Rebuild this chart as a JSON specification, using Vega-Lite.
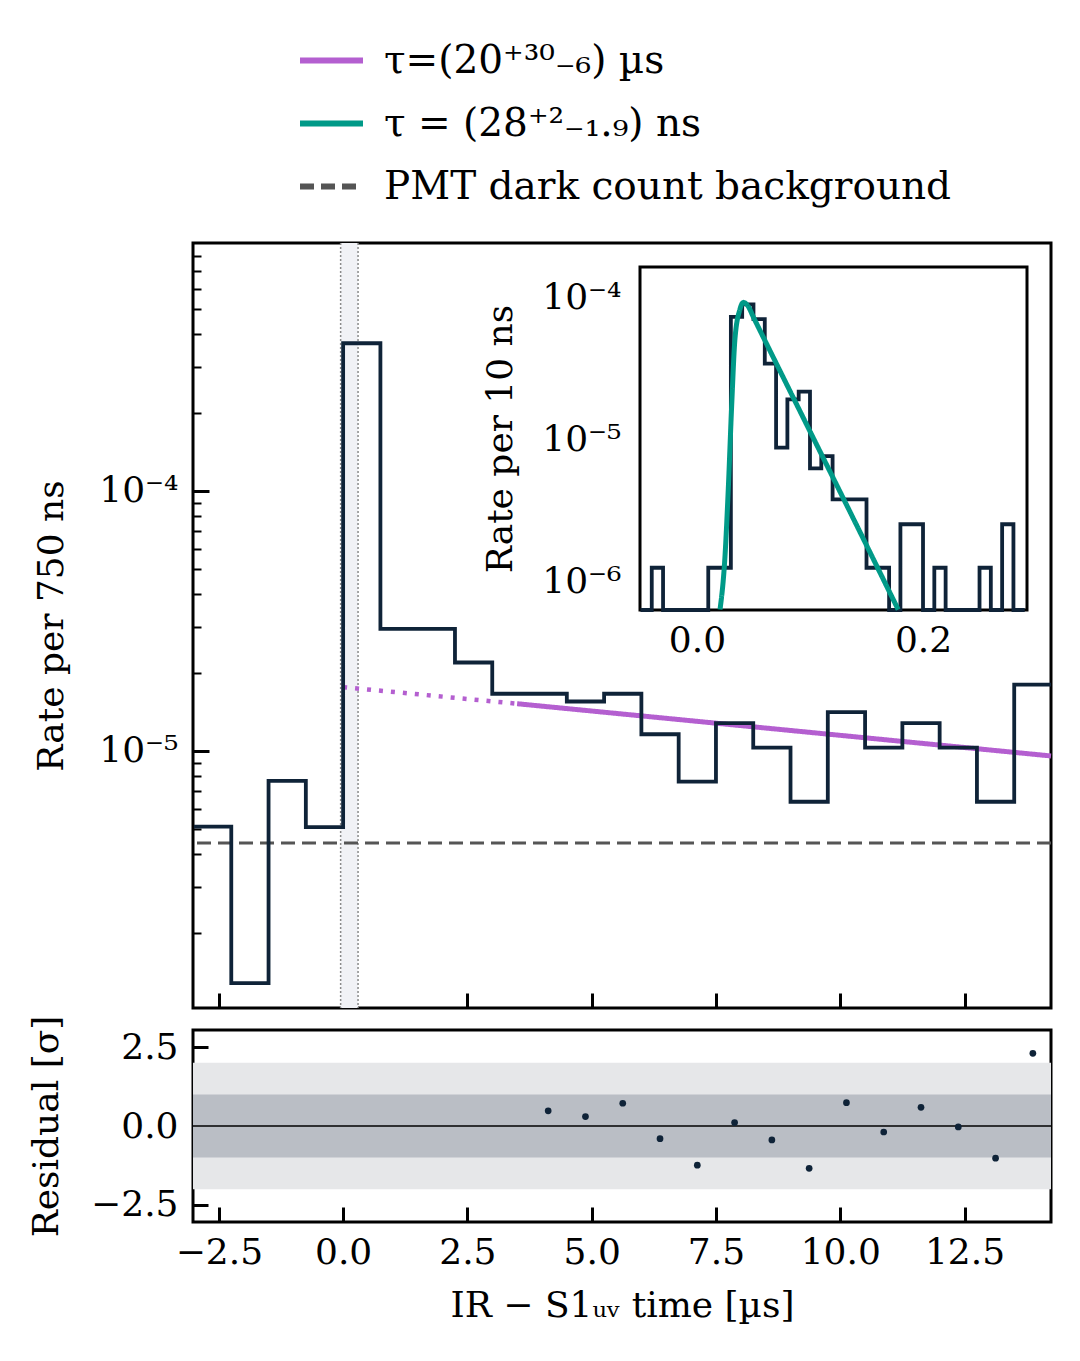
{
  "$schema": "https://vega.github.io/schema/vega-lite/v6.json",
  "padding": {"left": 27, "top": 24, "right": 20, "bottom": 20},
  "background": "white",
  "config": {
    "font": "DejaVu Serif",
    "view": {"stroke": "black", "strokeWidth": 3},
    "axis": {
      "labelFont": "DejaVu Serif", "titleFont": "DejaVu Serif",
      "labelFontSize": 36, "titleFontSize": 36, "titleFontWeight": "normal",
      "labelColor": "black", "titleColor": "black", "tickColor": "black",
      "grid": false, "domain": false, "zindex": 1, "tickWidth": 3
    }
  },
  "datasets": {
    "hist750": [
      {"t": -3.0, "rate": 5.12e-6},
      {"t": -2.25, "rate": 1.28e-6},
      {"t": -1.5, "rate": 7.67e-6},
      {"t": -0.75, "rate": 5.1e-6},
      {"t": 0.0, "rate": 3.70e-4},
      {"t": 0.75, "rate": 2.95e-5},
      {"t": 1.5, "rate": 2.95e-5},
      {"t": 2.25, "rate": 2.19e-5},
      {"t": 3.0, "rate": 1.66e-5},
      {"t": 3.75, "rate": 1.66e-5},
      {"t": 4.5, "rate": 1.55e-5},
      {"t": 5.25, "rate": 1.66e-5},
      {"t": 6.0, "rate": 1.16e-5},
      {"t": 6.75, "rate": 7.62e-6},
      {"t": 7.5, "rate": 1.28e-5},
      {"t": 8.25, "rate": 1.03e-5},
      {"t": 9.0, "rate": 6.38e-6},
      {"t": 9.75, "rate": 1.41e-5},
      {"t": 10.5, "rate": 1.03e-5},
      {"t": 11.25, "rate": 1.28e-5},
      {"t": 12.0, "rate": 1.03e-5},
      {"t": 12.75, "rate": 6.38e-6},
      {"t": 13.5, "rate": 1.80e-5},
      {"t": 14.25, "rate": 1.80e-5}
    ],
    "hist10": [
      {"t": -0.05, "rate": 0},
      {"t": -0.04, "rate": 1.26e-6},
      {"t": -0.03, "rate": 0},
      {"t": -0.02, "rate": 0},
      {"t": -0.01, "rate": 0},
      {"t": 0.0, "rate": 0},
      {"t": 0.01, "rate": 1.26e-6},
      {"t": 0.02, "rate": 1.26e-6},
      {"t": 0.03, "rate": 7.35e-5},
      {"t": 0.04, "rate": 9.0e-5},
      {"t": 0.05, "rate": 7.08e-5},
      {"t": 0.06, "rate": 3.45e-5},
      {"t": 0.07, "rate": 8.83e-6},
      {"t": 0.08, "rate": 1.93e-5},
      {"t": 0.09, "rate": 2.19e-5},
      {"t": 0.10, "rate": 6.3e-6},
      {"t": 0.11, "rate": 7.7e-6},
      {"t": 0.12, "rate": 3.82e-6},
      {"t": 0.13, "rate": 3.82e-6},
      {"t": 0.14, "rate": 3.82e-6},
      {"t": 0.15, "rate": 1.26e-6},
      {"t": 0.16, "rate": 1.26e-6},
      {"t": 0.17, "rate": 0},
      {"t": 0.18, "rate": 2.55e-6},
      {"t": 0.19, "rate": 2.55e-6},
      {"t": 0.20, "rate": 0},
      {"t": 0.21, "rate": 1.26e-6},
      {"t": 0.22, "rate": 0},
      {"t": 0.23, "rate": 0},
      {"t": 0.24, "rate": 0},
      {"t": 0.25, "rate": 1.26e-6},
      {"t": 0.26, "rate": 0},
      {"t": 0.27, "rate": 2.55e-6},
      {"t": 0.28, "rate": 0},
      {"t": 0.29, "rate": 0}
    ],
    "fitshort": [
      {"t": 0.0204, "rate": 6.4e-7, "series": "τ = (28⁺²₋₁.₉) ns"},
      {"t": 0.0248, "rate": 1.52e-6, "series": "τ = (28⁺²₋₁.₉) ns"},
      {"t": 0.0277, "rate": 4.5e-6, "series": "τ = (28⁺²₋₁.₉) ns"},
      {"t": 0.0307, "rate": 1.74e-5, "series": "τ = (28⁺²₋₁.₉) ns"},
      {"t": 0.0336, "rate": 5.13e-5, "series": "τ = (28⁺²₋₁.₉) ns"},
      {"t": 0.038, "rate": 8.3e-5, "series": "τ = (28⁺²₋₁.₉) ns"},
      {"t": 0.041, "rate": 9.3e-5, "series": "τ = (28⁺²₋₁.₉) ns"},
      {"t": 0.045, "rate": 8.8e-5, "series": "τ = (28⁺²₋₁.₉) ns"},
      {"t": 0.05, "rate": 7.3e-5, "series": "τ = (28⁺²₋₁.₉) ns"},
      {"t": 0.07, "rate": 3.48e-5, "series": "τ = (28⁺²₋₁.₉) ns"},
      {"t": 0.10, "rate": 1.15e-5, "series": "τ = (28⁺²₋₁.₉) ns"},
      {"t": 0.14, "rate": 2.63e-6, "series": "τ = (28⁺²₋₁.₉) ns"},
      {"t": 0.178, "rate": 6.4e-7, "series": "τ = (28⁺²₋₁.₉) ns"}
    ],
    "fitlong": [
      {"t": 0.0, "rate": 1.76e-5, "part": "extrapolated"},
      {"t": 3.5, "rate": 1.52e-5, "part": "extrapolated"},
      {"t": 3.5, "rate": 1.52e-5, "part": "fit", "series": "τ=(20⁺³⁰₋₆) µs"},
      {"t": 14.24, "rate": 9.57e-6, "part": "fit", "series": "τ=(20⁺³⁰₋₆) µs"}
    ],
    "background": [
      {"rate": 4.43e-6, "series": "PMT dark count background"}
    ],
    "window": [{"start": -0.05, "end": 0.3}],
    "insetbox": [{"x0": -0.0504, "x1": 0.292, "y0": 6.35e-7, "y1": 1.65e-4}],
    "resid": [
      {"t": 4.125, "r": 0.48},
      {"t": 4.875, "r": 0.30},
      {"t": 5.625, "r": 0.72},
      {"t": 6.375, "r": -0.40},
      {"t": 7.125, "r": -1.24},
      {"t": 7.875, "r": 0.11},
      {"t": 8.625, "r": -0.44},
      {"t": 9.375, "r": -1.34},
      {"t": 10.125, "r": 0.74},
      {"t": 10.875, "r": -0.19},
      {"t": 11.625, "r": 0.59},
      {"t": 12.375, "r": -0.03},
      {"t": 13.125, "r": -1.02},
      {"t": 13.875, "r": 2.30}
    ],
    "bands": [
      {"lo": -2, "hi": 2, "level": 2},
      {"lo": -1, "hi": 1, "level": 1}
    ],
    "zero": [{"r": 0}]
  },
  "resolve": {"legend": {"color": "independent", "strokeDash": "independent"}},
  "spacing": 2,
  "vconcat": [
    {
      "width": 858,
      "height": 765,
      "resolve": {"scale": {"x": "independent", "y": "independent"}},
      "layer": [
        {
          "layer": [
            {
              "data": {"name": "window"},
              "mark": {"type": "rect", "color": "#f1f2f6"},
              "encoding": {
                "x": {"field": "start", "type": "quantitative",
                  "scale": {"domain": [-3.02, 14.24], "nice": false, "zero": false},
                  "axis": {"title": null, "labels": false, "orient": "bottom",
                    "values": [-2.5, 0, 2.5, 5, 7.5, 10, 12.5], "tickSize": -15}},
                "x2": {"field": "end"}
              }
            },
            {
              "data": {"name": "window"},
              "mark": {"type": "rule", "color": "#8a8a8a", "strokeWidth": 1.5, "strokeDash": [2, 2]},
              "encoding": {"x": {"field": "start", "type": "quantitative"}}
            },
            {
              "data": {"name": "window"},
              "mark": {"type": "rule", "color": "#8a8a8a", "strokeWidth": 1.5, "strokeDash": [2, 2]},
              "encoding": {"x": {"field": "end", "type": "quantitative"}}
            },
            {
              "data": {"name": "background"},
              "mark": {"type": "rule", "strokeWidth": 3},
              "encoding": {
                "y": {"field": "rate", "type": "quantitative",
                  "scale": {"type": "log", "domain": [1.027e-6, 8.99e-4], "nice": false},
                  "axis": {
                    "title": "Rate per 750 ns", "orient": "left", "titlePadding": 28,
                    "values": [2e-6, 3e-6, 4e-6, 5e-6, 6e-6, 7e-6, 8e-6, 9e-6, 1e-5, 2e-5, 3e-5, 4e-5, 5e-5, 6e-5, 7e-5, 8e-5, 9e-5, 1e-4, 2e-4, 3e-4, 4e-4, 5e-4, 6e-4, 7e-4, 8e-4],
                    "labelExpr": "datum.value == 1e-4 ? '10⁻⁴' : datum.value == 1e-5 ? '10⁻⁵' : ''",
                    "tickSize": {"condition": {"test": "datum.value == 1e-4 || datum.value == 1e-5", "value": -16}, "value": -8},
                    "tickWidth": {"condition": {"test": "datum.value == 1e-4 || datum.value == 1e-5", "value": 3}, "value": 2},
                    "labelPadding": 31
                  }},
                "color": {"field": "series", "type": "nominal",
                  "scale": {"domain": ["τ=(20⁺³⁰₋₆) µs", "τ = (28⁺²₋₁.₉) ns", "PMT dark count background"], "range": ["#b45fd0", "#009a88", "#555555"]},
                  "legend": {"title": null, "orient": "none", "legendX": 104, "legendY": -217, "symbolType": "stroke", "symbolSize": 3969, "symbolStrokeWidth": 6, "labelFont": "DejaVu Serif", "labelFontSize": 39, "labelColor": "black", "labelOffset": 18, "rowPadding": 8, "padding": 0, "labelLimit": 800}},
                "strokeDash": {"field": "series", "type": "nominal",
                  "scale": {"domain": ["τ=(20⁺³⁰₋₆) µs", "τ = (28⁺²₋₁.₉) ns", "PMT dark count background"], "range": [[1, 0], [1, 0], [14, 7]]},
                  "legend": {"title": null, "orient": "none", "legendX": 104, "legendY": -217, "symbolType": "stroke", "symbolSize": 3969, "symbolStrokeWidth": 6, "labelFont": "DejaVu Serif", "labelFontSize": 39, "labelColor": "black", "labelOffset": 18, "rowPadding": 8, "padding": 0, "labelLimit": 800}}
              }
            },
            {
              "data": {"name": "fitlong"},
              "transform": [{"filter": "datum.part == 'extrapolated'"}],
              "mark": {"type": "line", "color": "#b45fd0", "strokeWidth": 4.5, "strokeDash": [4, 8], "strokeCap": "butt"},
              "encoding": {
                "x": {"field": "t", "type": "quantitative"},
                "y": {"field": "rate", "type": "quantitative"}
              }
            },
            {
              "data": {"name": "fitlong"},
              "transform": [{"filter": "datum.part == 'fit'"}],
              "mark": {"type": "line", "strokeWidth": 5},
              "encoding": {
                "x": {"field": "t", "type": "quantitative"},
                "y": {"field": "rate", "type": "quantitative"},
                "color": {"field": "series", "type": "nominal"},
                "strokeDash": {"field": "series", "type": "nominal"}
              }
            },
            {
              "data": {"name": "hist750"},
              "mark": {"type": "line", "interpolate": "step-after", "color": "#0f2338", "strokeWidth": 3.8, "clip": true},
              "encoding": {
                "x": {"field": "t", "type": "quantitative"},
                "y": {"field": "rate", "type": "quantitative"}
              }
            }
          ]
        },
        {
          "layer": [
            {
              "data": {"name": "insetbox"},
              "mark": {"type": "rect", "fill": "white", "stroke": "black", "strokeWidth": 3},
              "encoding": {
                "x": {"field": "x0", "type": "quantitative",
                  "scale": {"domain": [-0.0504, 0.292], "range": [447, 834], "nice": false, "zero": false, "clamp": true},
                  "axis": {"title": null, "orient": "bottom", "offset": -398, "values": [0, 0.2], "format": ".1f", "tickSize": -15, "labelPadding": 28}},
                "x2": {"field": "x1"},
                "y": {"field": "y0", "type": "quantitative",
                  "scale": {"type": "log", "domain": [6.35e-7, 1.65e-4], "range": [367, 24], "nice": false, "clamp": true},
                  "axis": {
                    "title": "Rate per 10 ns", "orient": "left", "offset": -447, "titlePadding": 22,
                    "values": [7e-7, 8e-7, 9e-7, 1e-6, 2e-6, 3e-6, 4e-6, 5e-6, 6e-6, 7e-6, 8e-6, 9e-6, 1e-5, 2e-5, 3e-5, 4e-5, 5e-5, 6e-5, 7e-5, 8e-5, 9e-5, 1e-4],
                    "labelExpr": "datum.value == 1e-4 ? '10⁻⁴' : datum.value == 1e-5 ? '10⁻⁵' : datum.value == 1e-6 ? '10⁻⁶' : ''",
                    "tickSize": {"condition": {"test": "datum.value == 1e-4 || datum.value == 1e-5 || datum.value == 1e-6", "value": -15}, "value": -7},
                    "tickWidth": {"condition": {"test": "datum.value == 1e-4 || datum.value == 1e-5 || datum.value == 1e-6", "value": 3}, "value": 2},
                    "labelPadding": 34
                  }},
                "y2": {"field": "y1"}
              }
            },
            {
              "data": {"name": "hist10"},
              "mark": {"type": "line", "interpolate": "step-after", "color": "#0f2338", "strokeWidth": 3.8},
              "encoding": {
                "x": {"field": "t", "type": "quantitative"},
                "y": {"field": "rate", "type": "quantitative"}
              }
            },
            {
              "data": {"name": "fitshort"},
              "mark": {"type": "line", "strokeWidth": 5, "interpolate": "monotone"},
              "encoding": {
                "x": {"field": "t", "type": "quantitative"},
                "y": {"field": "rate", "type": "quantitative"},
                "color": {"field": "series", "type": "nominal"},
                "strokeDash": {"field": "series", "type": "nominal"}
              }
            }
          ]
        }
      ]
    },
    {
      "width": 858,
      "height": 192,
      "layer": [
        {
          "data": {"name": "bands"},
          "transform": [{"filter": "datum.level == 2"}],
          "mark": {"type": "rect", "color": "#e6e7e9"},
          "encoding": {
            "y": {"field": "lo", "type": "quantitative",
              "scale": {"domain": [-3.04, 3.04], "nice": false, "zero": false},
              "axis": {"title": "Residual [σ]", "values": [-2.5, 0, 2.5], "format": ".1f", "tickSize": -15, "labelPadding": 30, "titlePadding": 25}},
            "y2": {"field": "hi"}
          }
        },
        {
          "data": {"name": "bands"},
          "transform": [{"filter": "datum.level == 1"}],
          "mark": {"type": "rect", "color": "#babec5"},
          "encoding": {
            "y": {"field": "lo", "type": "quantitative"},
            "y2": {"field": "hi"}
          }
        },
        {
          "data": {"name": "zero"},
          "mark": {"type": "rule", "color": "black", "strokeWidth": 1.5},
          "encoding": {"y": {"field": "r", "type": "quantitative"}}
        },
        {
          "data": {"name": "resid"},
          "mark": {"type": "point", "filled": true, "size": 45, "color": "#0f2338", "opacity": 1},
          "encoding": {
            "x": {"field": "t", "type": "quantitative",
              "scale": {"domain": [-3.02, 14.24], "nice": false, "zero": false},
              "axis": {"title": "IR − S1ᵤᵥ time [µs]", "values": [-2.5, 0, 2.5, 5, 7.5, 10, 12.5], "format": ".1f", "tickSize": -15, "labelPadding": 28, "titlePadding": 18}},
            "y": {"field": "r", "type": "quantitative"}
          }
        }
      ]
    }
  ]
}
